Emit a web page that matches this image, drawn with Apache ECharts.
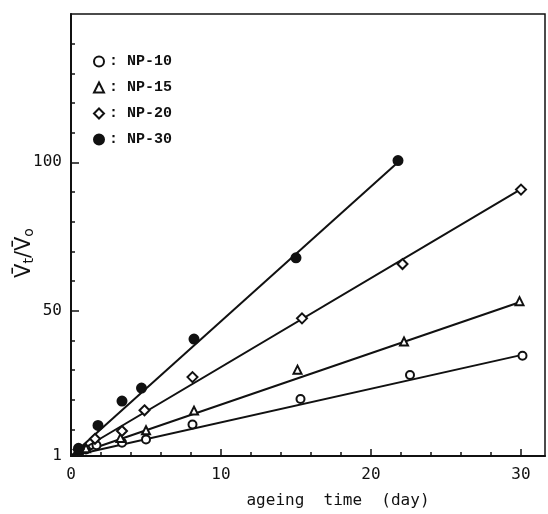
<!DOCTYPE html>
<html>
<head>
<meta charset="utf-8">
<script src="https://cdn.jsdelivr.net/npm/echarts@6/dist/echarts.min.js"></script>
<style>html,body{margin:0;padding:0;background:#fff}#c{width:548px;height:514px}</style>
</head>
<body>
<div id="c"></div>
<script>
// ---- data ----
const seriesNames = ['NP-10', 'NP-15', 'NP-20', 'NP-30'];
const np10 = [[0.5, 2.5], [1.0, 3.2], [1.7, 4.6], [3.4, 5.5], [5.0, 6.6], [8.1, 11.6], [15.3, 20.2], [22.6, 28.3], [30.1, 34.8]];
const np15 = [[0.5, 3.0], [1.0, 3.6], [3.3, 7.1], [5.0, 9.7], [8.2, 16.3], [15.1, 30.1], [22.2, 39.6], [29.9, 53.2]];
const np20 = [[0.5, 3.2], [1.6, 6.8], [3.4, 9.4], [4.9, 16.4], [8.1, 27.6], [15.4, 47.4], [22.1, 65.7], [30.0, 90.8]];
const np30 = [[0.5, 3.6], [1.8, 11.3], [3.4, 19.5], [4.7, 23.9], [8.2, 40.4], [15.0, 67.8], [21.8, 100.6]];
// fitted straight lines (start, end)
const fit10 = [[0, 1], [30, 35]];
const fit15 = [[0, 1], [30, 53]];
const fit20 = [[0, 1], [30, 91]];
const fit30 = [[0, 1], [21.8, 100]];
// axis ticks / labels
const xLabelValues = [0, 10, 20, 30];
const xMajorTicks = [10, 20, 30];
const xMinorTicks = [2, 4, 6, 8, 12, 14, 16, 18, 22, 24, 26, 28];
const yLabelValues = [1, 50, 100];
const yMajorTicks = [50, 100];
const yMinorTicks = [10, 20, 30, 40, 60, 70, 80, 90, 110, 120, 130, 140];
const xRange = [0, 31.6];
const yRange = [1, 150];

const ink = '#111';
const chart = echarts.init(document.getElementById('c'), null, {renderer: 'canvas'});

function lineSeries(d) {
  return {type: 'line', data: d, symbol: 'none', silent: true, z: 1,
    lineStyle: {color: ink, width: 2}, xAxisIndex: 0, yAxisIndex: 0};
}
function scatterSeries(name, d, symbol, size, filled) {
  return {type: 'scatter', name: name, data: d, symbol: symbol, symbolSize: size, z: 3,
    itemStyle: {color: filled ? ink : '#fff', borderColor: ink, borderWidth: 2, opacity: 1}};
}

chart.setOption({
  animation: false,
  backgroundColor: '#fff',
  grid: {left: 71, right: 3, top: 14, bottom: 54, show: true, borderColor: ink, borderWidth: 1.5, backgroundColor: 'transparent'},
  legend: {
    orient: 'vertical', left: 88, top: 49, itemWidth: 10, itemHeight: 10, itemGap: 11, itemTextGap: 14,
    data: seriesNames,
    formatter: ': {name}',
    textStyle: {fontFamily: 'Liberation Mono', fontWeight: 'bold', fontSize: 15, color: ink}
  },
  xAxis: [{
    type: 'value', min: xRange[0], max: xRange[1], position: 'bottom',
    axisLine: {lineStyle: {color: ink, width: 2}},
    axisTick: {inside: true, length: 7, customValues: xMajorTicks, lineStyle: {color: ink, width: 1.5}},
    axisLabel: {customValues: xLabelValues, margin: 11, color: ink, fontFamily: 'DejaVu Sans Mono', fontSize: 16},
    splitLine: {show: false},
    name: 'ageing  time  (day)', nameLocation: 'middle', nameGap: 37,
    nameTextStyle: {color: ink, fontFamily: 'DejaVu Sans Mono', fontSize: 16, padding: [0, 0, 0, 60]}
  }, {
    type: 'value', min: xRange[0], max: xRange[1], position: 'bottom',
    axisLine: {show: false},
    axisTick: {inside: true, length: 4, customValues: xMinorTicks, lineStyle: {color: ink, width: 1.5}},
    axisLabel: {show: false}, splitLine: {show: false}
  }],
  yAxis: [{
    type: 'value', min: yRange[0], max: yRange[1], position: 'left',
    axisLine: {show: true, lineStyle: {color: ink, width: 2}},
    axisTick: {show: true, inside: true, length: 8, customValues: yMajorTicks, lineStyle: {color: ink, width: 1.5}},
    axisLabel: {customValues: yLabelValues, margin: 9, color: ink, fontFamily: 'DejaVu Sans Mono', fontSize: 16},
    splitLine: {show: false}
  }, {
    type: 'value', min: yRange[0], max: yRange[1], position: 'left',
    axisLine: {show: false},
    axisTick: {show: true, inside: true, length: 4, customValues: yMinorTicks, lineStyle: {color: ink, width: 1.5}},
    axisLabel: {show: false}, splitLine: {show: false}
  }],
  graphic: [{
    type: 'text', x: 25, y: 253, rotation: Math.PI / 2,
    style: {
      text: '{a|V̄}{s|t}{a|/V̄}{s|o}',
      align: 'center', verticalAlign: 'middle',
      rich: {
        a: {fontFamily: 'DejaVu Sans', fontSize: 21, fill: ink},
        s: {fontFamily: 'DejaVu Sans', fontSize: 14, fill: ink, padding: [8, 0, 0, 0]}
      }
    }
  }],
  series: [
    lineSeries(fit10), lineSeries(fit15), lineSeries(fit20), lineSeries(fit30),
    scatterSeries('NP-10', np10, 'circle', 8, false),
    scatterSeries('NP-15', np15, 'triangle', 8, false),
    scatterSeries('NP-20', np20, 'diamond', 10, false),
    scatterSeries('NP-30', np30, 'circle', 9, true)
  ]
});
</script>
</body>
</html>
